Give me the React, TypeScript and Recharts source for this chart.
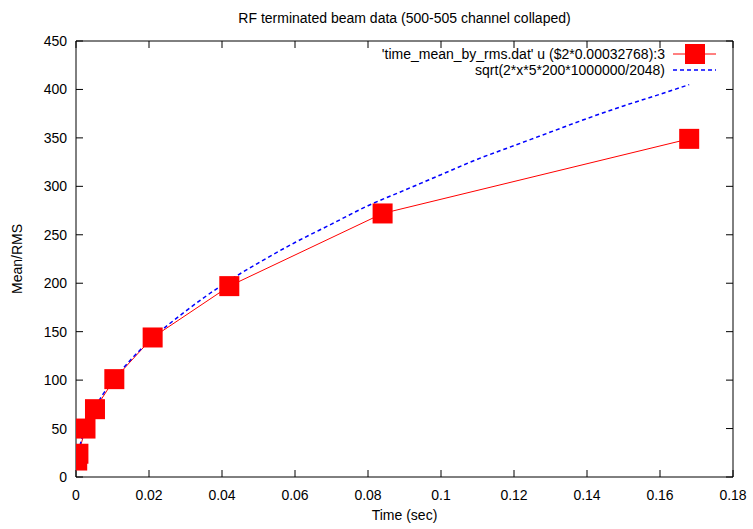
import React from 'react';
import { ComposedChart, Line, XAxis, YAxis } from 'recharts';

const FONT = '"Liberation Sans", Arial, Helvetica, sans-serif';

const TITLE = 'RF terminated beam data (500-505 channel collaped)';
const X_LABEL = 'Time (sec)';
const Y_LABEL = 'Mean/RMS';
const SERIES_NAMES = ["'time_mean_by_rms.dat' u ($2*0.00032768):3", 'sqrt(2*x*5*200*1000000/2048)'];

const X_TICKS = [0, 0.02, 0.04, 0.06, 0.08, 0.1, 0.12, 0.14, 0.16, 0.18];
const Y_TICKS = [0, 50, 100, 150, 200, 250, 300, 350, 400, 450];

// measured points
const measuredTime = [0.00033, 0.00066, 0.0026, 0.0052, 0.0105, 0.021, 0.042, 0.084, 0.168];
const measuredRatio = [17, 24, 50, 70, 101, 144, 197, 272, 349];

// dashed curve
const curveTime = [0.00033, 0.001, 0.002, 0.003, 0.005, 0.0075, 0.01, 0.015, 0.02, 0.03, 0.04, 0.05, 0.06, 0.07, 0.08, 0.09, 0.1, 0.11, 0.12, 0.13, 0.14, 0.15, 0.16, 0.168];
const curveRatio = [18, 31, 44, 54, 70, 86, 99, 121, 140, 171, 198, 221, 242, 261, 280, 296, 312, 328, 342, 356, 370, 383, 395, 405];

const measured = measuredTime.map((x, i) => ({ x, y: measuredRatio[i] }));
const curve = curveTime.map((x, i) => ({ x, y: curveRatio[i] }));

const Square = (props: any) => {
  const { cx, cy, index } = props;
  if (cx == null || cy == null) return null;
  return <rect key={`sq-${index}`} x={cx - 10} y={cy - 10} width={20} height={20} fill="#ff0000" />;
};

// tick-only axes: keep the tick lines, draw no label
const NoLabel = () => null;

const KeyBox = () => (
  <div style={{ position: 'absolute', left: 296, top: 46, width: 420, fontFamily: FONT, fontSize: 14, color: '#000' }}>
    <div style={{ display: 'flex', justifyContent: 'flex-end', alignItems: 'center', height: 16 }}>
      <span>{SERIES_NAMES[0]}</span>
      <svg width={43} height={20} style={{ marginLeft: 8, overflow: 'visible' }}>
        <line x1={0} y1={10} x2={43} y2={10} stroke="#ff0000" strokeWidth={1} />
        <rect x={12} y={0} width={20} height={20} fill="#ff0000" />
      </svg>
    </div>
    <div style={{ display: 'flex', justifyContent: 'flex-end', alignItems: 'center', height: 16 }}>
      <span>{SERIES_NAMES[1]}</span>
      <svg width={43} height={4} style={{ marginLeft: 8 }}>
        <line x1={0} y1={2} x2={43} y2={2} stroke="#0000ff" strokeWidth={1.5} strokeDasharray="4 3" />
      </svg>
    </div>
  </div>
);

const YTitle = (props: any) => {
  const { viewBox } = props;
  const cy = viewBox.y + viewBox.height / 2;
  return (
    <text x={17} y={cy} transform={`rotate(-90, 17, ${cy})`} textAnchor="middle" dominantBaseline="central"
      fontFamily={FONT} fontSize={14} fill="#000">{Y_LABEL}</text>
  );
};

const XTitle = (props: any) => {
  const { viewBox } = props;
  const cx = viewBox.x + viewBox.width / 2;
  return (
    <text x={cx} y={515} textAnchor="middle" dominantBaseline="central" fontFamily={FONT} fontSize={14} fill="#000">
      {X_LABEL}
    </text>
  );
};

export default function App() {
  const tickStyle = { fill: '#000', fontSize: 14, fontFamily: FONT };
  return (
    <div style={{ position: 'absolute', left: 0, top: 0, width: 753, height: 529, background: '#fff' }}>
      <div style={{ position: 'absolute', left: 76, top: 10, width: 657, textAlign: 'center', fontFamily: FONT, fontSize: 14, color: '#000' }}>
        {TITLE}
      </div>
      <ComposedChart width={753} height={529} margin={{ top: 41, right: 20, bottom: 0, left: 0 }}>
        {/* labelled axes */}
        <XAxis xAxisId="b" type="number" dataKey="x" domain={[0, 0.18]} ticks={X_TICKS} interval={0}
          height={52} tickSize={0} tickMargin={13} tickLine={false} axisLine={false} tick={tickStyle}
          allowDataOverflow label={<XTitle />} />
        <YAxis yAxisId="l" type="number" domain={[0, 450]} ticks={Y_TICKS} interval={0} width={76}
          tickSize={0} tickMargin={9} tickLine={false} axisLine={false} tick={tickStyle}
          allowDataOverflow label={<YTitle />} />
        {/* border + inward ticks on all four sides */}
        <XAxis xAxisId="bm" type="number" dataKey="x" domain={[0, 0.18]} ticks={X_TICKS} interval={0}
          mirror height={20} tickSize={7} tick={NoLabel} tickLine={{ stroke: '#000' }} stroke="#000" allowDataOverflow />
        <XAxis xAxisId="tm" type="number" dataKey="x" orientation="top" domain={[0, 0.18]} ticks={X_TICKS}
          interval={0} mirror height={20} tickSize={7} tick={NoLabel} tickLine={{ stroke: '#000' }} stroke="#000" allowDataOverflow />
        <YAxis yAxisId="lm" type="number" domain={[0, 450]} ticks={Y_TICKS} interval={0} mirror width={20}
          tickSize={7} tick={NoLabel} tickLine={{ stroke: '#000' }} stroke="#000" allowDataOverflow />
        <YAxis yAxisId="rm" type="number" orientation="right" domain={[0, 450]} ticks={Y_TICKS} interval={0}
          mirror width={20} tickSize={7} tick={NoLabel} tickLine={{ stroke: '#000' }} stroke="#000" allowDataOverflow />
        <Line xAxisId="b" yAxisId="l" data={measured} dataKey="y" type="linear" stroke="#ff0000" strokeWidth={1}
          dot={<Square />} activeDot={false} isAnimationActive={false} />
        <Line xAxisId="b" yAxisId="l" data={curve} dataKey="y" type="monotone" stroke="#0000ff" strokeWidth={1.5}
          strokeDasharray="4 3" dot={false} activeDot={false} isAnimationActive={false} />
      </ComposedChart>
      <KeyBox />
    </div>
  );
}
